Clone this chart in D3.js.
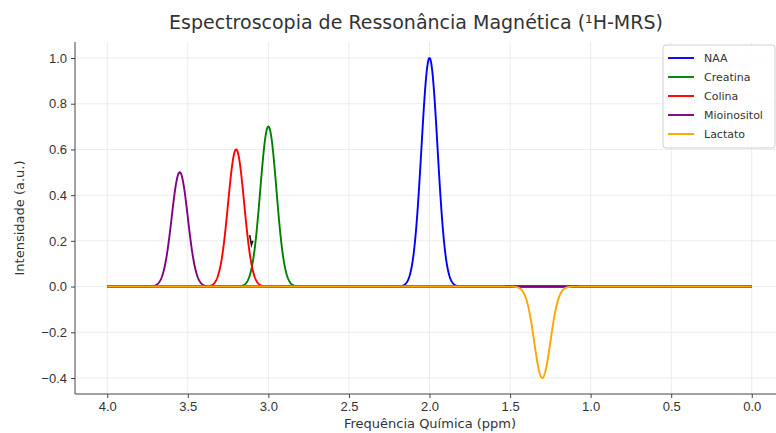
<!DOCTYPE html>
<html>
<head>
<meta charset="utf-8">
<script src="https://cdn.jsdelivr.net/npm/d3@7"></script>
<style>
  body { margin: 0; background: #fff; }
  svg { font-family: "DejaVu Sans", sans-serif; }
  .grid line { stroke: #e6e6e6; stroke-width: 0.8; }
  .axis path, .axis line { stroke: #444; }
  .axis text { fill: #333; font-size: 13px; }
</style>
</head>
<body>
<svg width="776" height="433"></svg>
<script>
// metabolitos: centro (ppm), amplitude, largura (sigma)
var nomes = ['NAA', 'Creatina', 'Colina', 'Mioinositol', 'Lactato'];
var centros = [2.0, 3.0, 3.2, 3.55, 1.3];
var amplitudes = [1.0, 0.7, 0.6, 0.5, -0.4];
var larguras = [0.05, 0.05, 0.05, 0.05, 0.05];
var cores = ['#0000ff', '#008000', '#ff0000', '#800080', '#ffa500'];

var xTicks = [4.0, 3.5, 3.0, 2.5, 2.0, 1.5, 1.0, 0.5, 0.0];
var yTicks = [-0.4, -0.2, 0.0, 0.2, 0.4, 0.6, 0.8, 1.0];

// pequeno traço preto visível perto de 3.1 ppm
var tracoPreto = [[3.116, 0.225], [3.105, 0.182], [3.096, 0.2]];

var svg = d3.select('svg'),
    pLeft = 75, pRight = 784, pTop = 42, pBottom = 394;

var x = d3.scaleLinear().domain([4.2, -0.2]).range([pLeft, pRight]);
var y = d3.scaleLinear().domain([-0.47, 1.07]).range([pBottom, pTop]);

// grade
var grid = svg.append('g').attr('class', 'grid');
grid.selectAll('.gx').data(xTicks).enter().append('line')
    .attr('x1', function(d){ return x(d); }).attr('x2', function(d){ return x(d); })
    .attr('y1', pTop).attr('y2', pBottom);
grid.selectAll('.gy').data(yTicks).enter().append('line')
    .attr('x1', pLeft).attr('x2', pRight)
    .attr('y1', function(d){ return y(d); }).attr('y2', function(d){ return y(d); });

// eixo de ppm amostrado de 4.0 a 0.0
var ppm = d3.range(0, 2001).map(function(i){ return 4.0 - i * 0.002; });

var line = d3.line()
    .x(function(d){ return x(d[0]); })
    .y(function(d){ return y(d[1]); });

nomes.forEach(function(n, i){
    var pts = ppm.map(function(p){
        var z = (p - centros[i]) / larguras[i];
        return [p, amplitudes[i] * Math.exp(-0.5 * z * z)];
    });
    svg.append('path')
        .attr('d', line(pts))
        .attr('fill', 'none')
        .attr('stroke', cores[i])
        .attr('stroke-width', 1.9);
});

svg.append('path')
    .attr('d', line(tracoPreto))
    .attr('fill', 'none')
    .attr('stroke', '#111')
    .attr('stroke-width', 1.6);

// eixos
svg.append('g').attr('class', 'axis')
    .attr('transform', 'translate(0,' + pBottom + ')')
    .call(d3.axisBottom(x).tickValues(xTicks).tickFormat(d3.format('.1f')).tickSize(4).tickPadding(4))
    .call(function(g){ g.select('.domain').attr('d', 'M' + pLeft + ',0H' + pRight); });

svg.append('g').attr('class', 'axis')
    .attr('transform', 'translate(' + pLeft + ',0)')
    .call(d3.axisLeft(y).tickValues(yTicks).tickFormat(function(d){ return d3.format('.1f')(d).replace('-', '\u2212'); }).tickSize(4).tickPadding(4))
    .call(function(g){ g.select('.domain').attr('d', 'M0,' + pTop + 'V' + pBottom); });

// textos
svg.append('text')
    .attr('x', 416).attr('y', 29)
    .attr('text-anchor', 'middle')
    .attr('font-size', '19px').attr('fill', '#333')
    .text('Espectroscopia de Ressonância Magnética (¹H-MRS)');

svg.append('text')
    .attr('x', 430).attr('y', 428)
    .attr('text-anchor', 'middle')
    .attr('font-size', '13px').attr('fill', '#333')
    .text('Frequência Química (ppm)');

svg.append('text')
    .attr('transform', 'translate(24,' + ((pTop + pBottom) / 2) + ') rotate(-90)')
    .attr('text-anchor', 'middle')
    .attr('font-size', '13px').attr('fill', '#333')
    .text('Intensidade (a.u.)');

// legenda
var leg = svg.append('g').attr('transform', 'translate(663,45)');
leg.append('rect')
    .attr('width', 112).attr('height', 103).attr('rx', 3)
    .attr('fill', '#fff').attr('fill-opacity', 0.85)
    .attr('stroke', '#d0d0d0');
nomes.forEach(function(n, i){
    var g = leg.append('g').attr('transform', 'translate(0,' + (13 + i * 19) + ')');
    g.append('line').attr('x1', 5).attr('x2', 31).attr('y1', 0).attr('y2', 0)
        .attr('stroke', cores[i]).attr('stroke-width', 1.9);
    g.append('text').attr('x', 41).attr('y', 4)
        .attr('font-size', '11px').attr('fill', '#333').text(n);
});
</script>
</body>
</html>
